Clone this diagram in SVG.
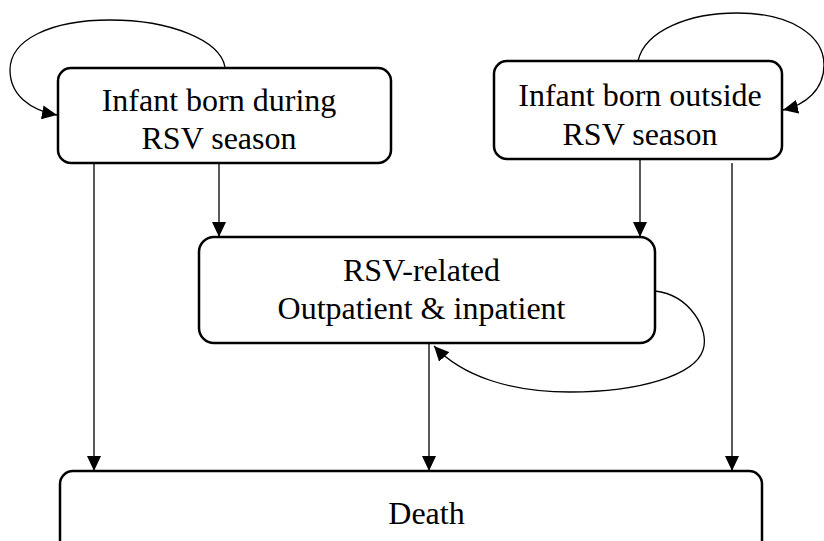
<svg xmlns="http://www.w3.org/2000/svg" width="824" height="541" viewBox="0 0 824 541">
<style>
.box{fill:#fff;stroke:#000;stroke-width:2.5}
.lbl{font-family:"Liberation Serif","Times New Roman",serif;font-size:32px;fill:#000;text-anchor:middle}
.edge{fill:none;stroke:#000;stroke-width:1.3;marker-end:url(#ah)}
</style>
<defs>
<marker id="ah" markerUnits="userSpaceOnUse" markerWidth="15" markerHeight="14" refX="15" refY="7" orient="auto">
<path d="M0,0 L15,7 L0,14 z" fill="#000"/>
</marker>
</defs>
<rect width="824" height="541" fill="#fff"/>
<g id="connectors">
<path class="edge" d="M225,67 C220,40 170,20 110,20 C50,20 10,40 10,70 C10,95 30,110 57,115"/>
<path class="edge" d="M638,61 C645,30 690,13 737,13 C790,13 824,35 824,65 C824,90 805,105 783,110"/>
<path class="edge" d="M655,291 C690,295 710,330 703,350 C695,375 640,392 570,392 C510,392 462,376 434,346"/>
<path class="edge" d="M94,163 L94,471"/>
<path class="edge" d="M219,163 L219,237"/>
<path class="edge" d="M640,159 L640,237"/>
<path class="edge" d="M732,163 L732,471"/>
<path class="edge" d="M429,343 L429,471"/>
</g>
<g id="node-during">
<rect class="box" x="58" y="68" width="333" height="95" rx="13"/>
<text class="lbl" x="219" y="111">Infant born during</text>
<text class="lbl" x="219" y="149">RSV season</text>
</g>
<g id="node-outside">
<rect class="box" x="494" y="61" width="288" height="98" rx="13"/>
<text class="lbl" x="640" y="106">Infant born outside</text>
<text class="lbl" x="640" y="145">RSV season</text>
</g>
<g id="node-rsv">
<rect class="box" x="199" y="237" width="456" height="106" rx="15"/>
<text class="lbl" x="421.5" y="281">RSV-related</text>
<text class="lbl" x="421.5" y="319">Outpatient &amp; inpatient</text>
</g>
<g id="node-death">
<rect class="box" x="60" y="471" width="702" height="95" rx="13"/>
<text class="lbl" x="426.5" y="524">Death</text>
</g>
</svg>
